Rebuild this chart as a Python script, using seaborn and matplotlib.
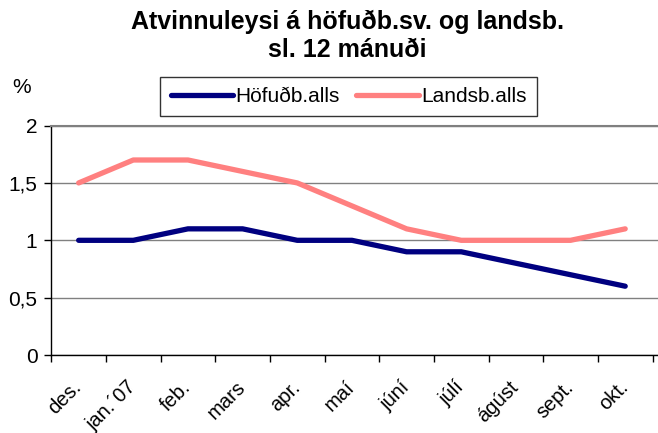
import numpy as np
import pandas as pd
import seaborn as sns
import matplotlib.pyplot as plt
from matplotlib.ticker import FixedLocator
from matplotlib.transforms import ScaledTranslation

# Data
months = ["des.", "jan.\u00b407", "feb.", "mars", "apr.", "maí", "júní", "júlí",
          "ágúst", "sept.", "okt."]
hofud = [1.0, 1.0, 1.1, 1.1, 1.0, 1.0, 0.9, 0.9, 0.8, 0.7, 0.6]
lands = [1.5, 1.7, 1.7, 1.6, 1.5, 1.3, 1.1, 1.0, 1.0, 1.0, 1.1]
series = ["Höfuðb.alls", "Landsb.alls"]
yticks = [0, 0.5, 1, 1.5, 2]
ytick_labels = ["0", "0,5", "1", "1,5", "2"]

df = pd.DataFrame({
    "x": list(range(len(months))) * 2,
    "val": hofud + lands,
    "series": [series[0]] * len(months) + [series[1]] * len(months),
})

sns.set_style("white")
plt.rcParams["font.family"] = ["Liberation Sans", "DejaVu Sans"]
plt.rcParams["text.color"] = "black"
plt.rcParams["xtick.color"] = "black"
plt.rcParams["ytick.color"] = "black"

fig = plt.figure(figsize=(6.58, 4.33), dpi=100)
ax = fig.add_axes([0.078, 0.18, 0.922, 0.53])

sns.lineplot(data=df, x="x", y="val", hue="series",
             palette=["#000080", "#FF8080"], linewidth=3.8,
             solid_capstyle="round", ax=ax, legend=True)

ax.set_xlim(-0.5, 10.6)
ax.set_ylim(0, 2)
ax.set_yticks(yticks)
ax.set_yticklabels(ytick_labels, fontsize=15)
ax.yaxis.grid(True, color="#808080", linewidth=1)
ax.set_axisbelow(True)

ax.set_xticks(range(len(months)))
ax.set_xticklabels(months, rotation=45, ha="right", va="center",
                   rotation_mode="anchor", fontsize=14.5)
# shift labels a bit left, like the original
shift = ScaledTranslation(-8 / 72, 0, fig.dpi_scale_trans)
for lab in ax.get_xticklabels():
    lab.set_transform(lab.get_transform() + shift)
ax.xaxis.set_minor_locator(FixedLocator(np.arange(-0.5, 10.6, 1)))
ax.tick_params(axis="x", which="major", length=0, pad=21)
ax.tick_params(axis="x", which="minor", length=5, width=1, color="black",
               direction="out", bottom=True)
ax.tick_params(axis="y", length=5, width=1, color="black", direction="out",
               left=True, pad=5)
ax.set_xlabel("")
ax.set_ylabel("")

for s in ["left", "bottom"]:
    ax.spines[s].set_color("black")
    ax.spines[s].set_linewidth(1)
ax.spines["right"].set_visible(False)
ax.spines["top"].set_color("#808080")
ax.spines["top"].set_linewidth(1.5)

leg = ax.legend(loc="lower center", bbox_to_anchor=(0.49, 1.04), ncol=2,
                frameon=True, fancybox=False, edgecolor="black",
                fontsize=15, handlelength=3.0, handletextpad=0.1,
                columnspacing=0.8, borderpad=0.5, borderaxespad=0)
leg.get_frame().set_linewidth(1)
for line in leg.get_lines():
    line.set_linewidth(3.8)
for t in leg.get_texts():
    t.set_color("black")

fig.text(0.528, 0.95, "Atvinnuleysi á höfuðb.sv. og landsb.", ha="center",
         va="center", fontsize=18, fontweight="bold")
fig.text(0.528, 0.885, "sl. 12 mánuði", ha="center", va="center",
         fontsize=18, fontweight="bold")
fig.text(0.033, 0.797, "%", ha="center", va="center", fontsize=15)

fig.savefig("out.png", dpi=100)
